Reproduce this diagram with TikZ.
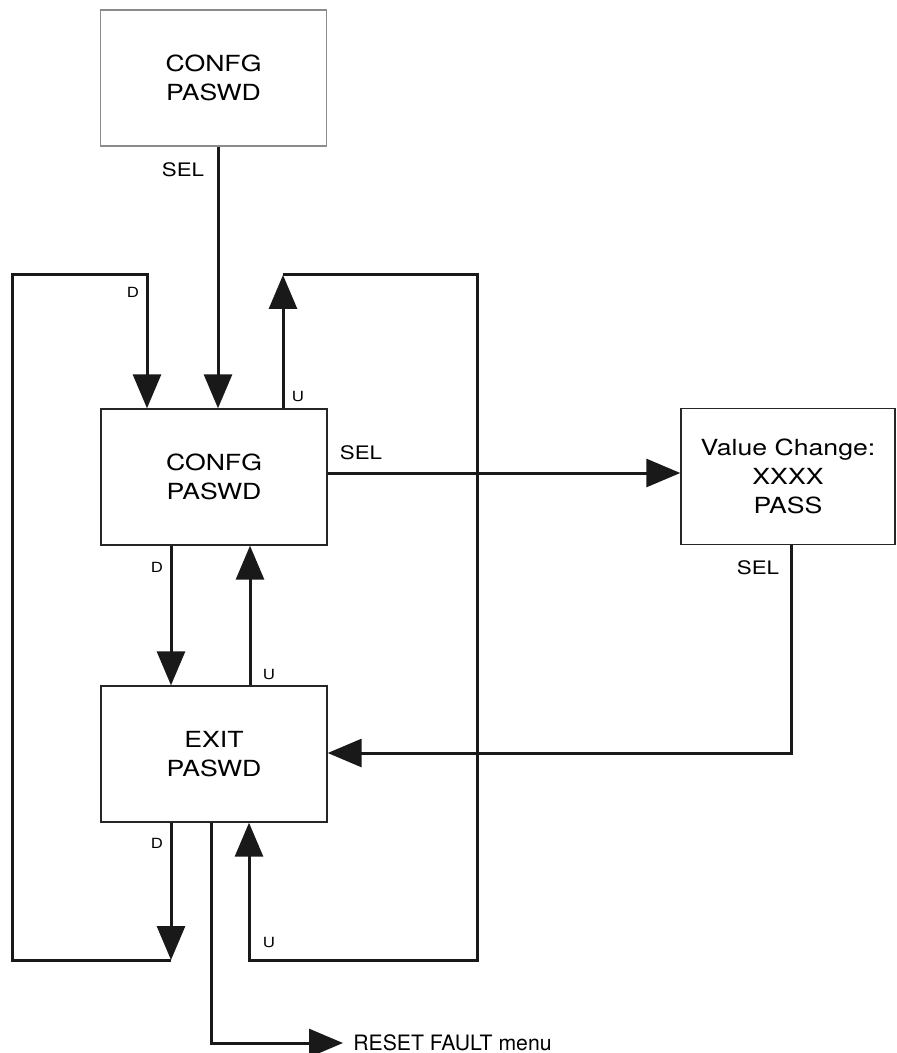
\documentclass[tikz,border=0pt]{standalone}
\usepackage{fontspec}
\setmainfont{TeX Gyre Heros}
\newfontfamily\wideheros{TeX Gyre Heros}[FakeStretch=1.2]
\usetikzlibrary{arrows.meta}
\begin{document}
\begin{tikzpicture}[x=0.5pt,y=-0.5pt,
		box/.style={draw=black!85,line width=0.7pt,minimum width=113pt,minimum height=68pt,inner sep=0pt,align=center,font=\wideheros\fontsize{11.1}{14.5}\selectfont},
		wire/.style={line width=1.5pt,black!90},
		arr/.style={wire,-{Triangle[width=14pt,length=17pt]}},
		sellbl/.style={font=\wideheros\fontsize{9.3}{11}\selectfont},
		keylbl/.style={font=\wideheros\fontsize{7}{8}\selectfont}]
		\useasboundingbox (0,0) rectangle (897,1053);
		\node[box,draw=black!45] (cfgtop) at (213.5,78) {CONFG\\PASWD};
		\node[box] (cfg) at (214,477) {CONFG\\PASWD};
		\node[box] (exit) at (214,754) {EXIT\\PASWD};
		\node[box,minimum width=107pt] (val) at (788,476.5) {Value Change:\\XXXX\\PASS};
		\node[anchor=west,inner sep=5pt,font=\fontsize{10.6}{12}\selectfont] (reset) at (343,1043) {RESET FAULT menu};
		\draw[arr] (cfgtop.south -| 218,0) -- (cfg.north -| 218,0);
		\node[sellbl] (sela) at (183,170) {SEL};
		\draw[arr] (exit.south -| 171,0) -- (171,960) coordinate (dcorner);
		\draw[arr] (dcorner) -- (12,960) -- (12,275) -- (147,275) -- (cfg.north -| 147,0);
		\node[keylbl] (da) at (133,292) {D};
		\draw[arr] (cfg.north -| 283,0) -- (283,275) coordinate (ucorner);
		\draw[arr] (ucorner) -- (477,275) -- (477,960) -- (249,960) -- (exit.south -| 249,0);
		\node[keylbl] (ua) at (298,397) {U};
		\draw[arr] (cfg.south -| 171,0) -- (exit.north -| 171,0);
		\node[keylbl] (db) at (157,567) {D};
		\draw[arr] (exit.north -| 250,0) -- (cfg.south -| 250,0);
		\node[keylbl] (ub) at (269,675) {U};
		\draw[arr] (cfg.east |- 0,473) -- (val.west |- 0,473);
		\node[sellbl] (selb) at (361,453) {SEL};
		\draw[arr] (val.south -| 791,0) -- (791,753) -- (exit.east |- 0,753);
		\node[sellbl] (selc) at (758,568) {SEL};
		\node[keylbl] (dc) at (157,843) {D};
		\node[keylbl] (uc) at (269,943) {U};
		\draw[arr] (exit.south -| 211,0) -- (211,1043) -- (reset.west);
	\end{tikzpicture}
\end{document}
